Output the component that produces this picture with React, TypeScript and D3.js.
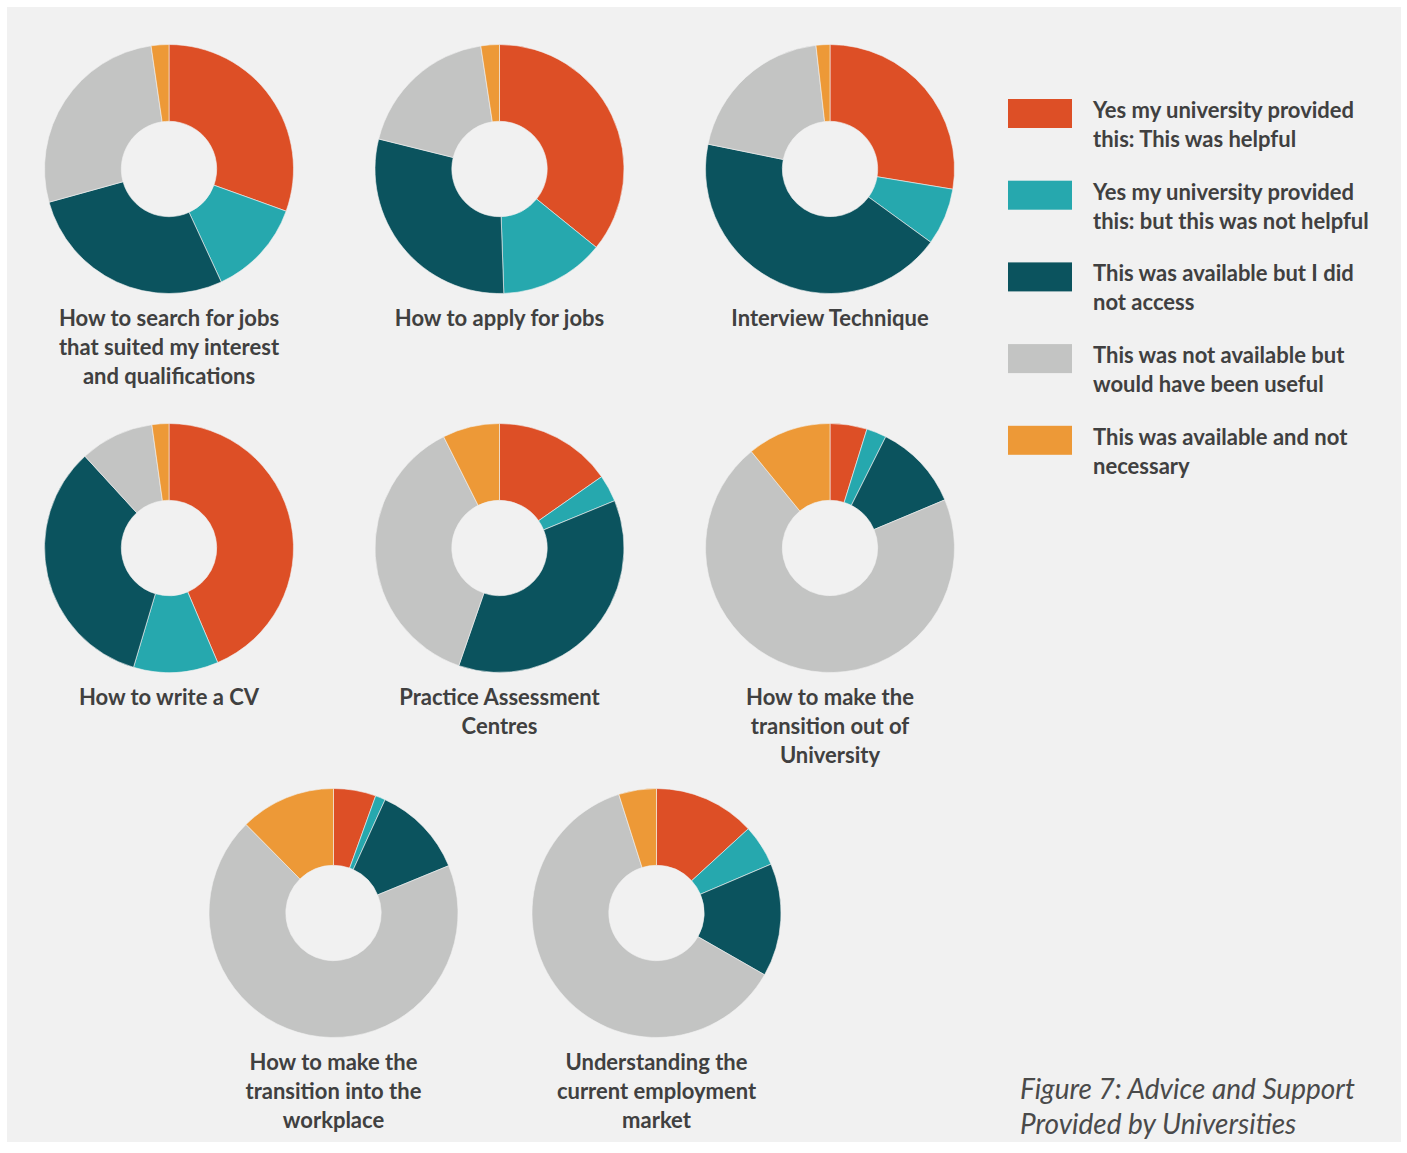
import React from "react";
import * as d3 from "d3";

const chartTitles: string[][] = [
  ["How to search for jobs", "that suited my interest", "and qualifications"],
  ["How to apply for jobs"],
  ["Interview Technique"],
  ["How to write a CV"],
  ["Practice Assessment", "Centres"],
  ["How to make the", "transition out of", "University"],
  ["How to make the", "transition into the", "workplace"],
  ["Understanding the", "current employment", "market"],
];

const seriesNames: string[][] = [
  ["Yes my university provided", "this: This was helpful"],
  ["Yes my university provided", "this: but this was not helpful"],
  ["This was available but I did", "not access"],
  ["This was not available but", "would have been useful"],
  ["This was available and not", "necessary"],
];

const helpful = [30.5, 35.8, 27.6, 43.6, 15.3, 4.8, 5.5, 13.2];
const notHelpful = [12.6, 13.6, 7.4, 11.0, 3.5, 2.6, 1.3, 5.4];
const didNotAccess = [27.6, 29.4, 43.2, 33.6, 36.5, 11.3, 12.0, 14.7];
const notAvailable = [27.0, 18.7, 20.0, 9.6, 37.3, 70.5, 68.8, 61.9];
const notNecessary = [2.3, 2.4, 1.8, 2.2, 7.4, 10.9, 12.4, 4.9];

const seriesColors = ["#DD4F26", "#26A8AE", "#0B535E", "#C3C4C3", "#ED9937"];

const caption = ["Figure 7: Advice and Support", "Provided by Universities"];

const W = 1407;
const H = 1153;
const OUTER = 124.5;
const INNER = 47.7;
const centers: [number, number][] = [
  [169, 169], [499.5, 169], [830, 169],
  [169, 548], [499.5, 548], [830, 548],
  [333.5, 913], [656.5, 913],
];

const TEXT = "#404040";
const FONT = "Lato, 'Open Sans', sans-serif";

export default function App() {
  const series = [helpful, notHelpful, didNotAccess, notAvailable, notNecessary];
  const pie = d3.pie<number>().sort(null).value((d) => d);
  const arc = d3.arc<d3.PieArcDatum<number>>().innerRadius(INNER).outerRadius(OUTER);

  return (
    <svg
      width={W}
      height={H}
      style={{ position: "absolute", left: 0, top: 0, display: "block" }}
    >
      <rect x={0} y={0} width={W} height={H} fill="#ffffff" />
      <rect x={7} y={7} width={1394} height={1135} fill="#F1F1F1" />
      {chartTitles.map((title, i) => {
        const vals = series.map((s) => s[i]);
        const arcs = pie(vals);
        const [cx, cy] = centers[i];
        return (
          <g key={i}>
            <g transform={`translate(${cx},${cy})`}>
              {arcs.map((a, j) => (
                <path
                  key={j}
                  d={arc(a) || ""}
                  fill={seriesColors[j]}
                  stroke="#F1F1F1"
                  strokeWidth={0.6}
                />
              ))}
            </g>
            {title.map((line, k) => (
              <text
                key={k}
                x={cx}
                y={cy + 157 + k * 29}
                textAnchor="middle"
                fontFamily={FONT}
                fontWeight={700}
                fontSize={22}
                fill={TEXT}
              >
                {line}
              </text>
            ))}
          </g>
        );
      })}
      {seriesNames.map((name, j) => {
        const y = 99 + j * 81.7;
        return (
          <g key={j}>
            <rect x={1008} y={y} width={64} height={29} fill={seriesColors[j]} />
            {name.map((line, k) => (
              <text
                key={k}
                x={1093}
                y={y + 19 + k * 29}
                fontFamily={FONT}
                fontWeight={700}
                fontSize={22}
                fill={TEXT}
              >
                {line}
              </text>
            ))}
          </g>
        );
      })}
      {caption.map((line, k) => (
        <text
          key={k}
          x={1020}
          y={1099 + k * 35}
          fontFamily={FONT}
          fontStyle="italic"
          fontWeight={400}
          fontSize={28}
          fill="#4a4a4a"
        >
          {line}
        </text>
      ))}
    </svg>
  );
}
